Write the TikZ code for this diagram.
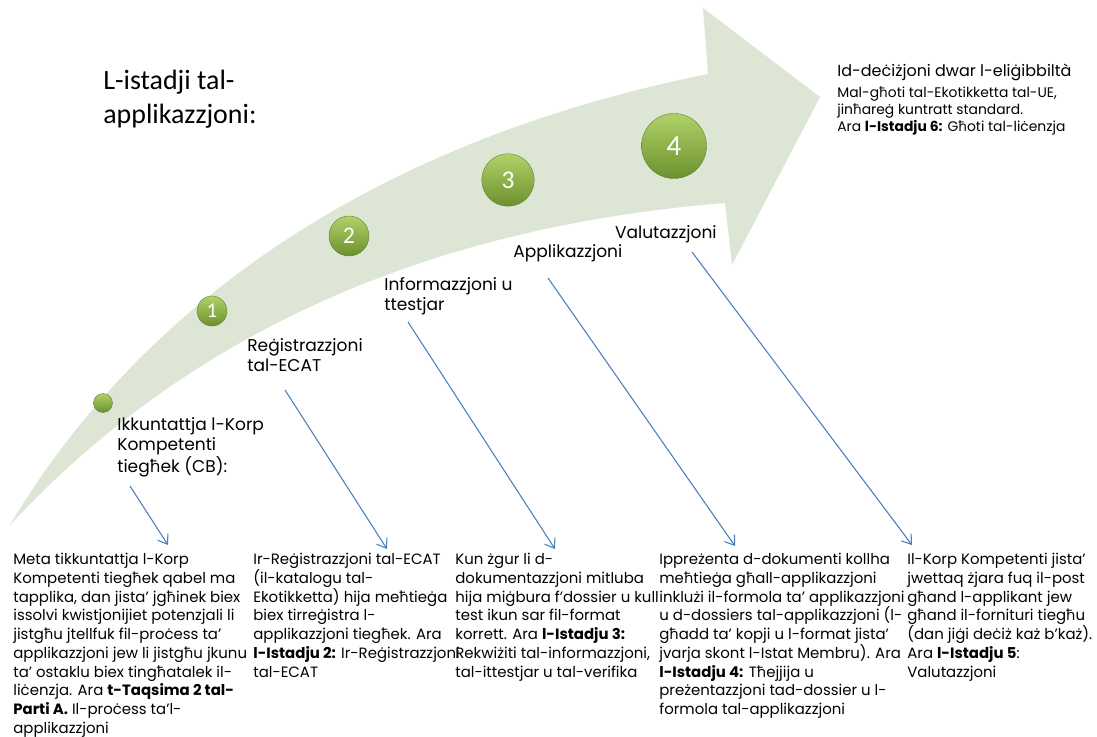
\documentclass[tikz,border=0pt]{standalone}
\usepackage{fontspec}
\usepackage{newunicodechar}
\setmainfont{Poppins}
\newfontfamily\calib{Carlito}
\newfontfamily\hbarfont[Scale=MatchLowercase]{Open Sans}
\newunicodechar{ħ}{{\hbarfont\symbol{"0127}}}
\usetikzlibrary{arrows.meta}

\definecolor{bandgreen}{RGB}{221,230,212}
\definecolor{ballgreen}{RGB}{176,210,104}
\definecolor{balldark}{RGB}{108,144,46}
\definecolor{linkblue}{RGB}{74,126,187}

\begin{document}
\begin{tikzpicture}[x=0.02cm,y=-0.02cm,
    stagelabel/.style={anchor=north west,align=left,inner sep=0pt,font=\fontsize{9.7}{11.4}\selectfont},
    desc/.style={anchor=north west,align=left,inner sep=0pt,font=\fontsize{8.5}{10.66}\selectfont},
    ball/.style={circle,inner sep=0pt,minimum size=#1,top color=ballgreen,bottom color=balldark,
                 draw=balldark!85!black,very thin,text=white},
    pointer/.style={-{Straight Barb[length=5pt,width=7pt]},linkblue,line width=0.6pt}]

    % Canvas
    \useasboundingbox (0,0) rectangle (1097,736);
    \fill[white] (0,0) rectangle (1097,736);

    % Curved arrow band
    \fill[bandgreen] (10,525) .. controls (120,340) and (330,150) .. (708,74)
        -- (703,8) -- (820,97) -- (732,265) -- (725,203)
        .. controls (450,225) and (200,320) .. (10,525) -- cycle;

    % Title
    \node[anchor=north west,align=left,inner sep=0pt,font=\calib\fontsize{15.9}{19}\selectfont] (title)
        at (103,70) {L-istadji tal-\\applikazzjoni:};

    % Stage balls
    \node[ball=0.38cm] (b0) at (103,403) {};
    \node[ball=0.6cm,font=\calib\fontsize{12}{12}\selectfont] (b1) at (212,311) {1};
    \node[ball=0.8cm,font=\calib\fontsize{13.5}{13.5}\selectfont] (b2) at (349,236) {2};
    \node[ball=1.05cm,font=\calib\fontsize{14.5}{14.5}\selectfont] (b3) at (508,180) {3};
    \node[ball=1.3cm,font=\calib\fontsize{16.5}{16.5}\selectfont] (b4) at (674,146) {4};

    % Stage labels
    \node[stagelabel] (s1) at (117,417) {Ikkuntattja l-Korp\\Kompetenti\\tiegħek (CB):};
    \node[stagelabel] (s2) at (247,338) {Reġistrazzjoni\\tal-ECAT};
    \node[stagelabel] (s3) at (384,277) {Informazzjoni u\\ttestjar};
    \node[stagelabel] (s4) at (513,244) {Applikazzjoni};
    \node[stagelabel,anchor=north east] (s5) at (717,225) {Valutazzjoni};

    % Decision
    \node[anchor=north west,inner sep=0pt,font=\fontsize{9.1}{10}\selectfont] (dec) at (837,64)
        {Id-deċiżjoni dwar l-eliġibbiltà};
    \node[anchor=north west,align=left,inner sep=0pt,font=\fontsize{7.9}{9.9}\selectfont] (decinfo) at (837,86)
        {Mal-għoti tal-Ekotikketta tal-UE,\\jinħareġ kuntratt standard.\\Ara \textbf{l-Istadju 6:} Għoti tal-liċenzja};

    % Descriptions
    \node[desc] (d1) at (13,553) {Meta tikkuntattja l-Korp\\Kompetenti tiegħek qabel ma\\tapplika, dan jista' jgħinek biex\\issolvi kwistjonijiet potenzjali li\\jistgħu jtellfuk fil-proċess ta'\\applikazzjoni jew li jistgħu jkunu\\ta' ostaklu biex tingħatalek il-\\liċenzja. Ara \textbf{t-Taqsima 2 tal-}\\\textbf{Parti A.} Il-proċess ta'l-\\applikazzjoni};
    \node[desc] (d2) at (253,553) {Ir-Reġistrazzjoni tal-ECAT\\(il-katalogu tal-\\Ekotikketta) hija meħtieġa\\biex tirreġistra l-\\applikazzjoni tiegħek. Ara\\\textbf{l-Istadju 2:} Ir-Reġistrazzjoni\\tal-ECAT};
    \node[desc] (d3) at (455,553) {Kun żgur li d-\\dokumentazzjoni mitluba\\hija miġbura f'dossier u kull\\test ikun sar fil-format\\korrett. Ara \textbf{l-Istadju 3:}\\Rekwiżiti tal-informazzjoni,\\tal-ittestjar u tal-verifika};
    \node[desc] (d4) at (659,553) {Ippreżenta d-dokumenti kollha\\meħtieġa għall-applikazzjoni\\inklużi il-formola ta' applikazzjoni\\u d-dossiers tal-applikazzjoni (l-\\għadd ta' kopji u l-format jista'\\jvarja skont l-Istat Membru). Ara\\\textbf{l-Istadju 4:} Tħejjija u\\preżentazzjoni tad-dossier u l-\\formola tal-applikazzjoni};
    \node[desc] (d5) at (907,553) {Il-Korp Kompetenti jista'\\jwettaq żjara fuq il-post\\għand l-applikant jew\\għand il-fornituri tiegħu\\(dan jiġi deċiż każ b'każ).\\Ara \textbf{l-Istadju 5}:\\Valutazzjoni};

    % Pointers
    \coordinate (p1a) at (130,486); \coordinate (p1b) at (168,545);
    \coordinate (p2a) at (285,390); \coordinate (p2b) at (387,549);
    \coordinate (p3a) at (408,322); \coordinate (p3b) at (555,549);
    \coordinate (p4a) at (548,278); \coordinate (p4b) at (735,546);
    \coordinate (p5a) at (692,252); \coordinate (p5b) at (912,545);
    \foreach \i in {1,...,5} {
      \draw[pointer] (p\i a) -- (p\i b);
    }
\end{tikzpicture}
\end{document}
